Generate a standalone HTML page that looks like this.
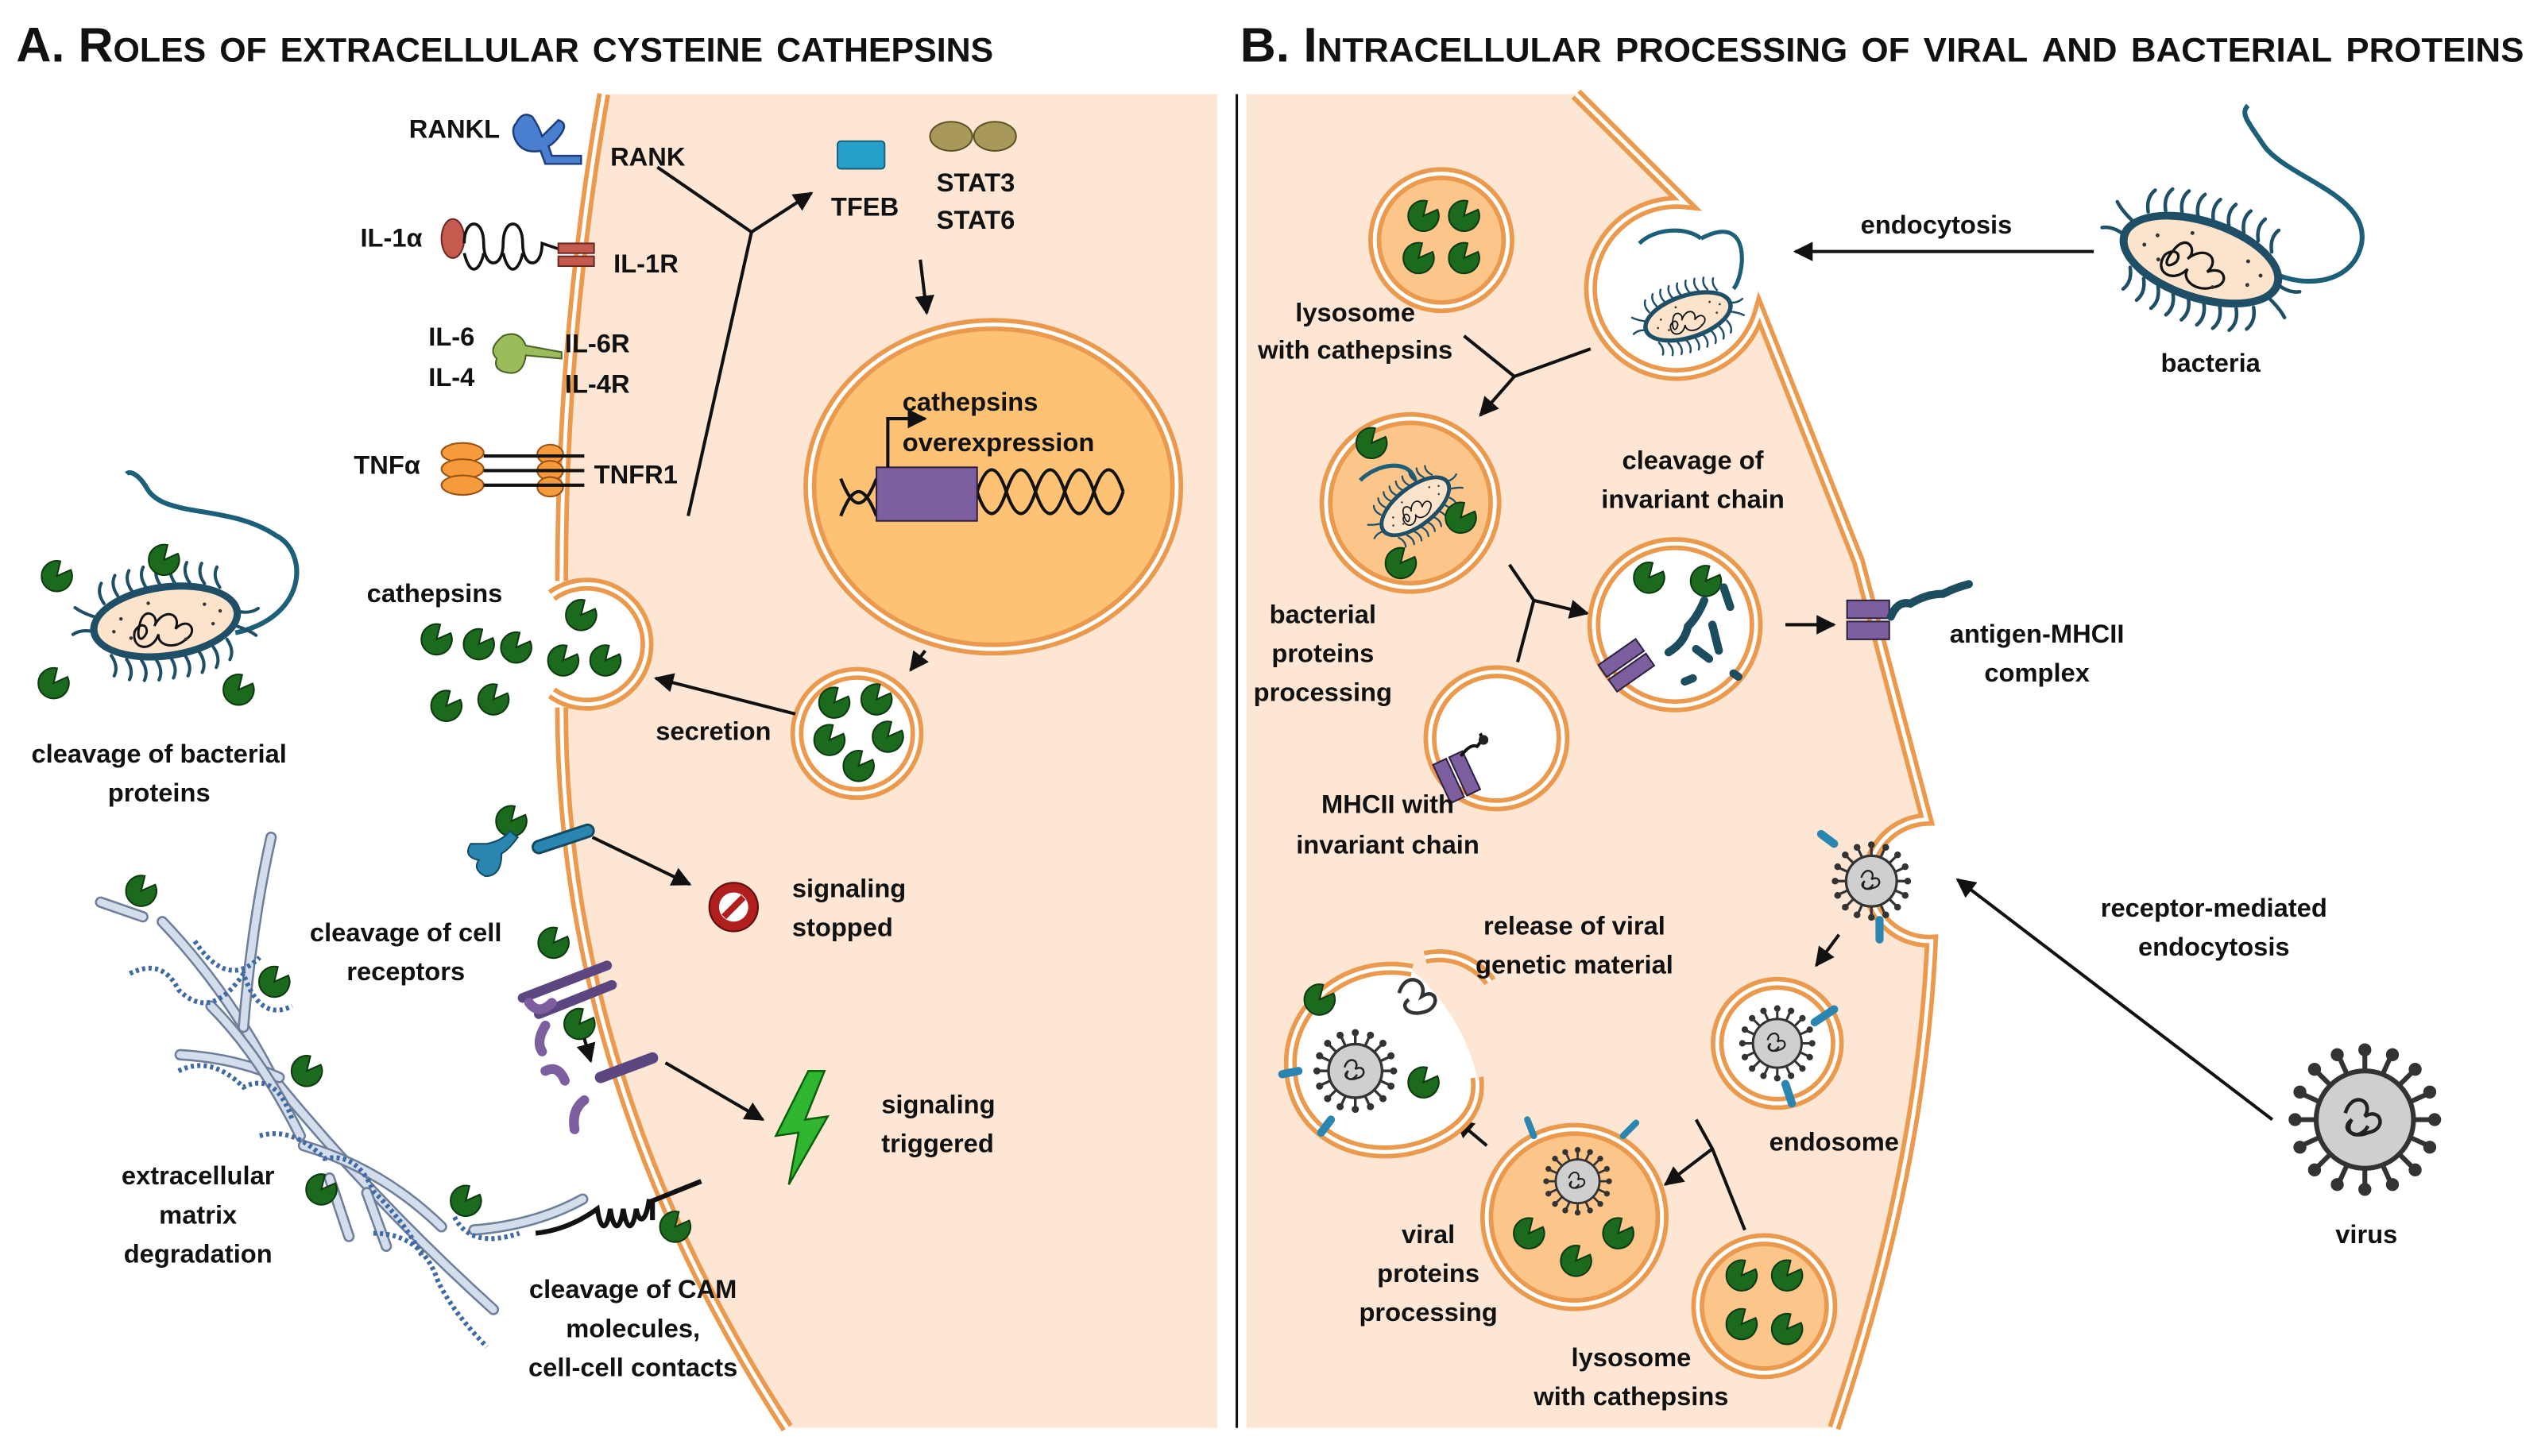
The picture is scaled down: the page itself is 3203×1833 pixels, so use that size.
<!DOCTYPE html>
<html><head><meta charset="utf-8"><style>
html,body{margin:0;padding:0;background:#fff}
svg{display:block}
text{font-family:"Liberation Sans",sans-serif;font-weight:bold;font-size:16px;fill:#111}
.c{text-anchor:middle}
.mo{fill:none;stroke:#eb9a4d;stroke-width:8}
.mw{fill:none;stroke:#fff;stroke-width:2.4}
.ln{fill:none;stroke:#111;stroke-width:2}
.fib{fill:none;stroke:#6f7f99;stroke-width:7;stroke-linecap:round}
.fib2{fill:none;stroke:#d3ddec;stroke-width:4.5;stroke-linecap:round}
.hair{fill:none;stroke:#1f4f66;stroke-width:2.2;stroke-linecap:round}
.ttl{font-size:30px;font-variant:small-caps}
</style></head><body>
<svg width="3203" height="1833" viewBox="0 0 1568 897.3" preserveAspectRatio="none" xmlns="http://www.w3.org/2000/svg">
<defs>
<marker id="ar" viewBox="0 0 10 10" refX="9" refY="5" markerWidth="6" markerHeight="6" orient="auto"><path d="M0,0 L10,5 L0,10 Z" fill="#111"/></marker>
<symbol id="p" viewBox="-11 -11 22 22" overflow="visible"><path d="M0 0 L8.6 -3.8 A9.4 9.4 0 1 1 2.2 -9.1 Z" fill="#1b6a1e" stroke="#0d3a10" stroke-width="1"/></symbol>
<g id="bac">
<g class="hair">
<path d="M-40,-18 q-4,-8 0,-14 M-30,-22 q-4,-8 0,-14 M-20,-24 q-4,-8 0,-14 M-10,-25 q-4,-8 0,-14 M0,-25 q-4,-8 0,-14 M10,-25 q-4,-8 0,-14 M20,-24 q-4,-8 0,-14 M30,-22 q-4,-8 0,-14 M40,-18 q-4,-8 0,-14"/>
<path d="M-40,18 q4,8 0,14 M-30,22 q4,8 0,14 M-20,24 q4,8 0,14 M-10,25 q4,8 0,14 M0,25 q4,8 0,14 M10,25 q4,8 0,14 M20,24 q4,8 0,14 M30,22 q4,8 0,14 M40,18 q4,8 0,14"/>
<path d="M-50,0 q-8,-3 -14,0 M50,0 q8,3 14,0 M-48,-10 q-8,-4 -12,-8 M48,10 q8,4 12,8"/>
</g>
<ellipse cx="0" cy="0" rx="52" ry="26" fill="#1f4f66"/>
<ellipse cx="0" cy="0" rx="47" ry="21" fill="#fbe3cc"/>
<path d="M-18,0 c5,-14 15,-4 10,2 c8,-12 20,-6 14,4 c10,-8 16,4 6,8 c-8,6 -20,2 -18,-6 c-6,12 -20,8 -16,-4 c4,-6 10,-4 8,2 c-4,6 -8,4 -4,-6" fill="none" stroke="#111" stroke-width="1.6"/>
<g fill="#333"><circle cx="-30" cy="-6" r="1.2"/><circle cx="-25" cy="8" r="1.2"/><circle cx="28" cy="-8" r="1.2"/><circle cx="32" cy="6" r="1.2"/><circle cx="-10" cy="-14" r="1.2"/><circle cx="12" cy="14" r="1.2"/><circle cx="-36" cy="2" r="1.2"/><circle cx="38" cy="-2" r="1.2"/></g>
</g>
<g id="vir">
<g stroke="#333" stroke-width="3"><path d="M0,-42 V-30 M0,42 V30 M-42,0 H-30 M42,0 H30 M-30,-30 L-21,-21 M30,30 L21,21 M-30,30 L-21,21 M30,-30 L21,-21 M-16,-39 L-11,-28 M16,39 L11,28 M39,-16 L28,-11 M-39,16 L-28,11 M16,-39 L11,-28 M-16,39 L-11,28 M39,16 L28,11 M-39,-16 L-28,-11"/></g>
<g fill="#333"><circle cx="0" cy="-43" r="4"/><circle cx="0" cy="43" r="4"/><circle cx="-43" cy="0" r="4"/><circle cx="43" cy="0" r="4"/><circle cx="-31" cy="-31" r="4"/><circle cx="31" cy="31" r="4"/><circle cx="-31" cy="31" r="4"/><circle cx="31" cy="-31" r="4"/><circle cx="-17" cy="-40" r="4"/><circle cx="17" cy="40" r="4"/><circle cx="40" cy="-17" r="4"/><circle cx="-40" cy="17" r="4"/><circle cx="17" cy="-40" r="4"/><circle cx="-17" cy="40" r="4"/><circle cx="40" cy="17" r="4"/><circle cx="-40" cy="-17" r="4"/></g>
<circle r="30" fill="#cfcfcf" stroke="#333" stroke-width="3"/>
<path d="M-12,-4 c4,-14 18,-8 12,2 c10,-6 14,8 2,10 c-8,4 -18,-2 -10,-8 c-6,8 4,14 10,4" fill="none" stroke="#222" stroke-width="2.2"/>
</g>
</defs>

<!-- Titles -->
<text x="10" y="38" class="ttl" textLength="602" lengthAdjust="spacingAndGlyphs">A. Roles of extracellular cysteine cathepsins</text>
<text x="764" y="38" class="ttl" textLength="791" lengthAdjust="spacingAndGlyphs">B. Intracellular processing of viral and bacterial proteins</text>

<!-- Panel A cell -->
<path d="M372,58 C356,150 346,250 346,355 L346,440 C346,600 400,750 485,880 L750,880 L750,58 Z" fill="#fde6d3"/>
<path d="M372,58 C356,150 346,250 346,358 M346,436 C346,600 400,750 485,880" class="mo"/>
<path d="M372,58 C356,150 346,250 346,358 M346,436 C346,600 400,750 485,880" class="mw"/>
<circle cx="360" cy="397" r="36" fill="#fff"/>
<path d="M340,367 A37,37 0 1 1 340,427" class="mo"/>
<path d="M340,367 A37,37 0 1 1 340,427" class="mw"/>
<line x1="762" y1="58" x2="762" y2="880" stroke="#111" stroke-width="1.5"/>

<!-- receptors -->
<text x="252" y="85">RANKL</text>
<path d="M318,76 q4,-8 10,-4 q4,6 6,12 q6,-6 10,-10 q6,2 2,8 q-4,6 -8,8 l2,6 h18 v5 h-22 l-3,-8 q-12,2 -16,-8 q-2,-6 1,-9 z" fill="#4a7fd0" stroke="#1d3d7a" stroke-width="1.2"/>
<text x="376" y="102">RANK</text>
<text x="222" y="152">IL-1α</text>
<ellipse cx="279" cy="147" rx="7" ry="12" fill="#c55a4f" stroke="#6a2a24"/>
<path d="M286,150 c0,-16 12,-16 12,0 c0,16 12,16 12,0 c0,-16 12,-16 12,0 c0,16 12,16 12,0 l12,4 M286,156 c4,16 10,10 12,0 M310,156 c4,16 10,10 12,0" fill="none" stroke="#111" stroke-width="1.8"/>
<rect x="344" y="150" width="22" height="6" fill="#c55a4f" stroke="#6a2a24"/><rect x="344" y="158" width="22" height="6" fill="#c55a4f" stroke="#6a2a24"/>
<text x="378" y="168">IL-1R</text>
<text x="264" y="213">IL-6</text><text x="264" y="238">IL-4</text>
<path d="M310,207 q10,-4 14,6 l22,4 v4 l-22,-2 q-2,14 -14,10 q-6,-2 -4,-8 q-6,-6 4,-14 z" fill="#9cbb5a" stroke="#4b6328"/>
<text x="348" y="217">IL-6R</text><text x="348" y="242">IL-4R</text>
<text x="218" y="292">TNFα</text>
<g fill="#f59a3d" stroke="#9a5212"><ellipse cx="285" cy="279" rx="13" ry="6"/><ellipse cx="285" cy="289" rx="13" ry="6"/><ellipse cx="285" cy="299" rx="13" ry="6"/><ellipse cx="339" cy="280" rx="8" ry="6"/><ellipse cx="339" cy="290" rx="8" ry="6"/><ellipse cx="339" cy="300" rx="8" ry="6"/></g>
<path d="M298,281 H360 M298,290 H360 M298,299 H360" stroke="#111" stroke-width="2"/>
<text x="366" y="298">TNFR1</text>

<!-- signaling lines -->
<path d="M424,318 L463,143 M405,103 L463,143" class="ln"/>
<path d="M463,143 L500,119" class="ln" marker-end="url(#ar)"/>
<rect x="516" y="87" width="29" height="17" rx="2" fill="#27a0c8" stroke="#16617b"/>
<text x="512" y="133">TFEB</text>
<ellipse cx="586" cy="84" rx="13" ry="9" fill="#a8985a" stroke="#5c5226"/><ellipse cx="613" cy="84" rx="13" ry="9" fill="#a8985a" stroke="#5c5226"/>
<text x="577" y="118">STAT3</text><text x="577" y="141">STAT6</text>
<path d="M567,160 L571,193" class="ln" marker-end="url(#ar)"/>

<!-- nucleus -->
<ellipse cx="612" cy="300" rx="113" ry="100" fill="#fdc273"/>
<ellipse cx="612" cy="300" rx="113" ry="100" class="mo"/>
<ellipse cx="612" cy="300" rx="113" ry="100" class="mw"/>
<path d="M518,295 c8,20 14,20 22,0 M518,318 c8,-20 14,-20 22,0 M602,303 c6,-18 12,-18 18,0 c6,18 12,18 18,0 c6,-18 12,-18 18,0 c6,18 12,18 18,0 c6,-18 12,-18 18,0 M602,303 c6,18 12,18 18,0 c6,-18 12,-18 18,0 c6,18 12,18 18,0 c6,-18 12,-18 18,0 c6,18 12,18 18,0" fill="none" stroke="#111" stroke-width="2"/>
<rect x="540" y="288" width="62" height="33" fill="#7d5fa0" stroke="#2e2140"/>
<path d="M547,288 V258 H570" class="ln" marker-end="url(#ar)"/>
<text x="556" y="253">cathepsins</text><text x="556" y="278">overexpression</text>
<path d="M570,401 L561,413" class="ln" marker-end="url(#ar)"/>

<!-- lysosome A -->
<circle cx="528" cy="452" r="37" fill="#fff"/>
<circle cx="528" cy="452" r="37" class="mo"/><circle cx="528" cy="452" r="37" class="mw"/>
<use href="#p" x="503" y="422" width="22" height="22"/><use href="#p" x="529" y="420" width="22" height="22"/>
<use href="#p" x="500" y="445" width="22" height="22"/><use href="#p" x="536" y="443" width="22" height="22"/><use href="#p" x="518" y="461" width="22" height="22"/>
<text x="404" y="456">secretion</text>
<path d="M490,440 L404,418" class="ln" marker-end="url(#ar)"/>

<!-- secreted cathepsins -->
<text x="226" y="371">cathepsins</text>
<use href="#p" x="347" y="368" width="22" height="22"/><use href="#p" x="336" y="396" width="22" height="22"/><use href="#p" x="362" y="396" width="22" height="22"/>
<use href="#p" x="258" y="383" width="22" height="22"/><use href="#p" x="284" y="386" width="22" height="22"/><use href="#p" x="307" y="388" width="22" height="22"/>
<use href="#p" x="264" y="424" width="22" height="22"/><use href="#p" x="293" y="420" width="22" height="22"/>

<!-- left bacterium -->
<path d="M145,390 C190,380 190,340 170,330 C140,310 100,320 90,300 C85,292 80,290 78,292" fill="none" stroke="#1c5f78" stroke-width="3"/>
<g transform="translate(102,383) rotate(-8) scale(0.9)"><use href="#bac"/></g>
<use href="#p" x="24" y="344" width="22" height="22"/><use href="#p" x="90" y="334" width="22" height="22"/><use href="#p" x="22" y="410" width="22" height="22"/><use href="#p" x="136" y="414" width="22" height="22"/>
<text x="98" y="470" class="c">cleavage of bacterial</text><text x="98" y="494" class="c">proteins</text>

<!-- ECM fibers -->
<g>
<path d="M62,556 L88,565 M100,568 Q140,610 168,664 Q230,740 304,807" class="fib"/><path d="M62,556 L88,565 M100,568 Q140,610 168,664 Q230,740 304,807" class="fib2"/>
<path d="M167,516 Q155,570 150,633" class="fib"/><path d="M167,516 Q155,570 150,633" class="fib2"/>
<path d="M111,650 Q145,652 172,664" class="fib"/><path d="M111,650 Q145,652 172,664" class="fib2"/>
<path d="M130,620 Q160,650 185,700" class="fib"/><path d="M130,620 Q160,650 185,700" class="fib2"/>
<path d="M187,706 Q235,720 272,756" class="fib"/><path d="M187,706 Q235,720 272,756" class="fib2"/>
<path d="M203,726 L215,762 M226,735 L238,768" class="fib"/><path d="M203,726 L215,762 M226,735 L238,768" class="fib2"/>
<path d="M292,758 Q330,755 359,739" class="fib"/><path d="M292,758 Q330,755 359,739" class="fib2"/>
<path d="M80,600 q20,-10 30,10 q20,20 40,-10 q10,30 30,20 M110,660 q20,-10 40,10 q20,-10 30,20 M160,700 q20,-6 40,14 q20,-4 30,20 q20,20 30,40 M230,760 q30,0 40,30 q10,20 30,40 M120,580 q20,30 40,10 M280,750 q10,20 40,10" fill="none" stroke="#3f6aa3" stroke-width="3" stroke-dasharray="2 2"/>
</g>
<use href="#p" x="76" y="538" width="22" height="22"/><use href="#p" x="158" y="594" width="22" height="22"/><use href="#p" x="178" y="649" width="22" height="22"/>
<use href="#p" x="187" y="722" width="22" height="22"/><use href="#p" x="276" y="729" width="22" height="22"/>
<text x="122" y="730" class="c">extracellular</text><text x="122" y="754" class="c">matrix</text><text x="122" y="778" class="c">degradation</text>

<!-- receptor cleavage -->
<use href="#p" x="304" y="495" width="22" height="22"/>
<path d="M300,520 q10,-2 14,-8 l5,4 q-6,8 -10,10 q0,14 -10,14 q-8,-4 -4,-10 q-10,-2 -5,-10 z" fill="#2a86b0" stroke="#134a62"/>
<path d="M332,522 L362,512" stroke="#134a62" stroke-width="9" stroke-linecap="round"/><path d="M332,522 L362,512" stroke="#2a86b0" stroke-width="6" stroke-linecap="round"/>
<path d="M365,516 L425,545" class="ln" marker-end="url(#ar)"/>
<circle cx="452" cy="559" r="15" fill="#b01e1e" stroke="#5a0c0c"/><circle cx="452" cy="559" r="9" fill="#fff"/><path d="M446,565 L458,553" stroke="#b01e1e" stroke-width="4"/>
<text x="488" y="553">signaling</text><text x="488" y="577">stopped</text>
<text x="250" y="580" class="c">cleavage of cell</text><text x="250" y="604" class="c">receptors</text>
<use href="#p" x="330" y="570" width="22" height="22"/>
<path d="M322,615 l52,-20 M332,625 l45,-18" stroke="#5b4680" stroke-width="6" stroke-linecap="round"/>
<path d="M340,618 q-8,8 -14,0 M336,632 q-6,10 -2,16" stroke="#7d5fa0" stroke-width="6" fill="none" stroke-linecap="round"/>
<use href="#p" x="346" y="620" width="22" height="22"/>
<path d="M360,640 L364,654" class="ln" marker-end="url(#ar)"/>
<path d="M370,664 l32,-12" stroke="#5b4680" stroke-width="7" stroke-linecap="round"/>
<path d="M336,660 q8,-4 12,6 M360,678 q-8,6 -6,18" stroke="#7d5fa0" stroke-width="6" fill="none" stroke-linecap="round"/>
<path d="M410,655 L470,690" class="ln" marker-end="url(#ar)"/>
<path d="M498,660 L478,700 L492,698 L486,730 L510,688 L496,690 L508,660 Z" fill="#2fb52f" stroke="#0b5f0b" stroke-width="1.2"/>
<text x="543" y="686">signaling</text><text x="543" y="710">triggered</text>

<!-- CAM -->
<path d="M330,760 Q350,758 368,745 c2,14 6,14 8,0 c2,14 6,14 8,0 c2,14 6,14 8,0 c2,10 6,8 8,-6 M402,752 v-12 l30,-12" fill="none" stroke="#111" stroke-width="3"/>
<use href="#p" x="405" y="745" width="22" height="22"/>
<text x="390" y="800" class="c">cleavage of CAM</text><text x="390" y="824" class="c">molecules,</text><text x="390" y="848" class="c">cell-cell contacts</text>

<!-- Panel B cell -->
<path d="M768,58 L971,58 L1038,125 A53,53 0 1 0 1084,192 L1145,346 L1187,505 A36,36 0 1 0 1190,580 C1185,690 1160,790 1130,880 L768,880 Z" fill="#fde6d3"/>
<path d="M971,58 L1038,125 A53,53 0 1 0 1084,192 L1145,346 L1187,505 A36,36 0 1 0 1190,580 C1185,690 1160,790 1130,880" class="mo"/>
<path d="M971,58 L1038,125 A53,53 0 1 0 1084,192 L1145,346 L1187,505 A36,36 0 1 0 1190,580 C1185,690 1160,790 1130,880" class="mw"/>
<path d="M1048,147 C1080,130 1075,170 1068,178" fill="none" stroke="#1c5f78" stroke-width="2.5"/>
<path d="M1010,150 C1020,140 1040,140 1048,147" fill="none" stroke="#1c5f78" stroke-width="2.5"/>
<g transform="translate(1040,195) rotate(-18) scale(0.55)"><use href="#bac"/></g>

<text x="1193" y="144" class="c">endocytosis</text>
<path d="M1290,155 L1106,155" class="ln" marker-end="url(#ar)"/>
<path d="M1400,168 C1420,178 1450,175 1455,150 C1460,120 1410,110 1395,90 C1385,75 1380,70 1385,65" fill="none" stroke="#1c5f78" stroke-width="3"/>
<g transform="translate(1356,160) rotate(18)"><use href="#bac"/></g>
<text x="1362" y="229" class="c">bacteria</text>

<!-- lysosome B top -->
<circle cx="888" cy="148" r="41" fill="#fcc68a"/><circle cx="888" cy="148" r="41" class="mo"/><circle cx="888" cy="148" r="41" class="mw"/>
<use href="#p" x="866" y="122" width="22" height="22"/><use href="#p" x="891" y="122" width="22" height="22"/><use href="#p" x="863" y="148" width="22" height="22"/><use href="#p" x="891" y="148" width="22" height="22"/>
<text x="835" y="198" class="c">lysosome</text><text x="835" y="221" class="c">with cathepsins</text>
<path d="M902,207 L933,232 L980,215" class="ln"/><path d="M933,232 L912,256" class="ln" marker-end="url(#ar)"/>

<!-- phagolysosome -->
<circle cx="869" cy="310" r="52" fill="#fcc68a"/><circle cx="869" cy="310" r="52" class="mo"/><circle cx="869" cy="310" r="52" class="mw"/>
<path d="M838,296 c10,-10 30,-14 34,0" fill="none" stroke="#1c5f78" stroke-width="2.5"/>
<g transform="translate(872,312) rotate(-38) scale(0.5)"><use href="#bac"/></g>
<use href="#p" x="834" y="262" width="22" height="22"/><use href="#p" x="889" y="308" width="22" height="22"/><use href="#p" x="852" y="336" width="22" height="22"/>
<text x="815" y="384" class="c">bacterial</text><text x="815" y="408" class="c">proteins</text><text x="815" y="432" class="c">processing</text>
<path d="M930,348 L945,370 L935,408" class="ln"/><path d="M945,370 L978,378" class="ln" marker-end="url(#ar)"/>

<!-- invariant chain vesicle -->
<text x="1043" y="289" class="c">cleavage of</text><text x="1043" y="313" class="c">invariant chain</text>
<circle cx="1032" cy="385" r="50" fill="#fff"/><circle cx="1032" cy="385" r="50" class="mo"/><circle cx="1032" cy="385" r="50" class="mw"/>
<use href="#p" x="1005" y="345" width="22" height="22"/><use href="#p" x="1040" y="347" width="22" height="22"/>
<path d="M1028,402 q10,-6 12,-16 q6,-6 10,-16 M1062,362 l4,12 M1055,385 l4,16 M1045,400 l8,6 M1038,420 l5,-2 M1068,415 l3,2" stroke="#1c4d5e" stroke-width="5" fill="none" stroke-linecap="round"/>
<g transform="translate(1002,410) rotate(-35)"><rect x="-14" y="-10" width="28" height="9" fill="#7d5fa0" stroke="#2e2140"/><rect x="-14" y="1" width="28" height="9" fill="#7d5fa0" stroke="#2e2140"/></g>
<path d="M1100,385 L1130,385" class="ln" marker-end="url(#ar)"/>
<rect x="1138" y="370" width="26" height="11" fill="#7d5fa0" stroke="#2e2140"/><rect x="1138" y="383" width="26" height="11" fill="#7d5fa0" stroke="#2e2140"/>
<path d="M1165,380 q4,-10 12,-8 q10,-6 20,-6 q8,-4 16,-6" stroke="#1c4d5e" stroke-width="5" fill="none" stroke-linecap="round"/>
<text x="1255" y="396" class="c">antigen-MHCII</text><text x="1255" y="420" class="c">complex</text>

<!-- MHCII vesicle -->
<circle cx="922" cy="455" r="41" fill="#fff"/><circle cx="922" cy="455" r="41" class="mo"/><circle cx="922" cy="455" r="41" class="mw"/>
<g transform="translate(897,478) rotate(-25)"><rect x="-10" y="-12" width="9" height="26" fill="#7d5fa0" stroke="#2e2140"/><rect x="1" y="-12" width="9" height="26" fill="#7d5fa0" stroke="#2e2140"/></g>
<path d="M900,466 q6,-8 10,-6 q4,-4 2,-8" stroke="#111" stroke-width="2" fill="none"/><circle cx="914" cy="456" r="3" fill="#222"/>
<text x="855" y="501" class="c">MHCII with</text><text x="855" y="526" class="c">invariant chain</text>

<!-- virus pocket -->
<g transform="translate(1153,543) scale(0.52)"><use href="#vir"/></g>
<path d="M1130,520 l-8,-6 M1158,567 v12" stroke="#2a86b0" stroke-width="5" stroke-linecap="round"/>
<text x="1364" y="565" class="c">receptor-mediated</text><text x="1364" y="589" class="c">endocytosis</text>
<path d="M1400,690 L1206,542" class="ln" marker-end="url(#ar)"/>
<g transform="translate(1457,690)"><use href="#vir"/></g>
<text x="1458" y="766" class="c">virus</text>
<path d="M1133,576 L1119,595" class="ln" marker-end="url(#ar)"/>

<!-- endosome -->
<circle cx="1095" cy="643" r="37" fill="#fff"/><circle cx="1095" cy="643" r="37" class="mo"/><circle cx="1095" cy="643" r="37" class="mw"/>
<g transform="translate(1095,643) scale(0.5)"><use href="#vir"/></g>
<path d="M1118,630 l12,-8 M1100,668 l4,12" stroke="#2a86b0" stroke-width="5" stroke-linecap="round"/>
<text x="1130" y="709" class="c">endosome</text>
<path d="M1045,690 L1055,708 L1075,758" class="ln"/><path d="M1055,708 L1026,730" class="ln" marker-end="url(#ar)"/>

<!-- viral processing vesicle -->
<circle cx="970" cy="750" r="54" fill="#fcc68a"/><circle cx="970" cy="750" r="54" class="mo"/><circle cx="970" cy="750" r="54" class="mw"/>
<g transform="translate(972,728) scale(0.45)"><use href="#vir"/></g>
<use href="#p" x="931" y="749" width="22" height="22"/><use href="#p" x="960" y="766" width="22" height="22"/><use href="#p" x="986" y="749" width="22" height="22"/>
<path d="M945,700 l-4,-10 M1000,700 l8,-8" stroke="#2a86b0" stroke-width="4" stroke-linecap="round"/>
<text x="880" y="766" class="c">viral</text><text x="880" y="790" class="c">proteins</text><text x="880" y="814" class="c">processing</text>

<!-- lysosome bottom -->
<circle cx="1087" cy="805" r="41" fill="#fcc68a"/><circle cx="1087" cy="805" r="41" class="mo"/><circle cx="1087" cy="805" r="41" class="mw"/>
<use href="#p" x="1062" y="775" width="22" height="22"/><use href="#p" x="1090" y="775" width="22" height="22"/><use href="#p" x="1062" y="805" width="22" height="22"/><use href="#p" x="1090" y="808" width="22" height="22"/>
<text x="1005" y="842" class="c">lysosome</text><text x="1005" y="866" class="c">with cathepsins</text>
<path d="M916,706 L897,690" class="ln" marker-end="url(#ar)"/>

<!-- release vesicle -->
<path d="M870,598 C830,590 795,620 795,655 C795,700 840,720 880,705 C905,695 912,680 910,664 C905,640 890,615 870,598 Z" fill="#fff"/>
<path d="M870,598 C830,590 795,620 795,655 C795,700 840,720 880,705 C905,695 912,680 910,664 M878,590 C900,585 915,600 918,605" class="mo"/>
<path d="M870,598 C830,590 795,620 795,655 C795,700 840,720 880,705 C905,695 912,680 910,664 M878,590 C900,585 915,600 918,605" class="mw"/>
<g transform="translate(835,660) scale(0.55)"><use href="#vir"/></g>
<path d="M862,612 c4,-14 18,-8 14,2 c10,-6 12,8 0,10 c-8,2 -14,-4 -8,-8" fill="none" stroke="#333" stroke-width="2.2"/>
<use href="#p" x="802" y="605" width="22" height="22"/><use href="#p" x="866" y="656" width="22" height="22"/>
<path d="M800,660 l-10,2 M820,690 l-6,8" stroke="#2a86b0" stroke-width="5" stroke-linecap="round"/>
<text x="970" y="576" class="c">release of viral</text><text x="970" y="600" class="c">genetic material</text>
</svg>
</body></html>
